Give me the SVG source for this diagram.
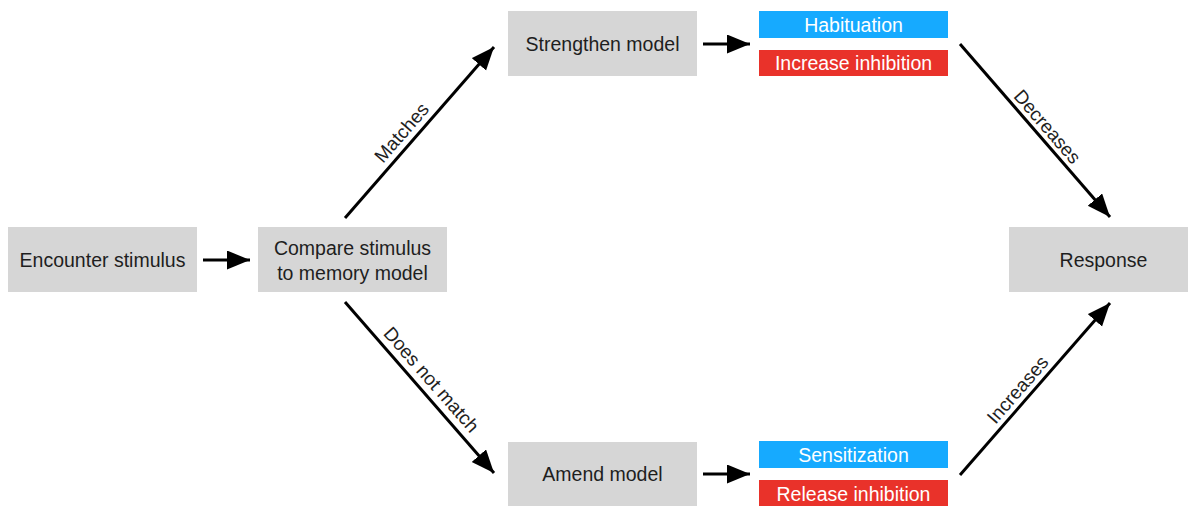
<svg xmlns="http://www.w3.org/2000/svg" width="1188" height="506" viewBox="0 0 1188 506">
<defs>
<style>
.box{fill:#d6d6d6}
.blue{fill:#16aaff}
.red{fill:#e9322a}
.t{font-family:"Liberation Sans",Arial,sans-serif;font-size:19.5px;fill:#1e1e1e;text-anchor:middle}
.w{font-family:"Liberation Sans",Arial,sans-serif;font-size:19.5px;fill:#ffffff;text-anchor:middle}
.lbl{font-family:"Liberation Sans",Arial,sans-serif;font-size:19px;fill:#1e1e1e;text-anchor:middle}
.c{stroke:#000;stroke-width:3;fill:none;marker-end:url(#ah)}
</style>
<marker id="ah" markerUnits="userSpaceOnUse" markerWidth="26" markerHeight="20" refX="23" refY="9.5" orient="auto">
<path d="M0,0 L23,9.5 L0,19 Z" fill="#000"/>
</marker>
</defs>
<rect width="1188" height="506" fill="#fff"/>
<g id="encounter"><rect class="box" x="8" y="227" width="189" height="65"/><text class="t" x="102.5" y="267">Encounter stimulus</text></g>
<g id="compare"><rect class="box" x="258" y="227" width="189" height="65"/><text class="t" x="352.5" y="255">Compare stimulus</text><text class="t" x="352.5" y="280">to memory model</text></g>
<g id="strengthen"><rect class="box" x="508" y="11" width="189" height="65"/><text class="t" x="602.5" y="51">Strengthen model</text></g>
<g id="habituation"><rect class="blue" x="759" y="11" width="189" height="27"/><text class="w" x="853.5" y="31.5">Habituation</text></g>
<g id="increase-inhibition"><rect class="red" x="759" y="50" width="189" height="26"/><text class="w" x="853.5" y="70">Increase inhibition</text></g>
<g id="amend"><rect class="box" x="508" y="442" width="189" height="65"/><text class="t" x="602.5" y="481">Amend model</text></g>
<g id="sensitization"><rect class="blue" x="759" y="441" width="189" height="27"/><text class="w" x="853.5" y="462">Sensitization</text></g>
<g id="release-inhibition"><rect class="red" x="759" y="480" width="189" height="27"/><text class="w" x="853.5" y="500.5">Release inhibition</text></g>
<g id="response"><rect class="box" x="1009" y="227" width="189" height="65"/><text class="t" x="1103.5" y="267">Response</text></g>
<g id="connectors">
<line class="c" x1="203" y1="260" x2="250" y2="260"/>
<line class="c" x1="703" y1="44" x2="750" y2="44"/>
<line class="c" x1="703" y1="474" x2="750" y2="474"/>
<line class="c" x1="345" y1="218" x2="494" y2="47"/>
<line class="c" x1="345" y1="302" x2="494" y2="473"/>
<line class="c" x1="960" y1="44" x2="1110" y2="217"/>
<line class="c" x1="960" y1="475" x2="1110" y2="303"/>
<text class="lbl" transform="translate(402,133) rotate(-49)" y="6">Matches</text>
<text class="lbl" transform="translate(431,380) rotate(48.7)" y="6">Does not match</text>
<text class="lbl" transform="translate(1047,127) rotate(49)" y="6">Decreases</text>
<text class="lbl" transform="translate(1018,390) rotate(-49)" y="6">Increases</text>
</g>
</svg>
